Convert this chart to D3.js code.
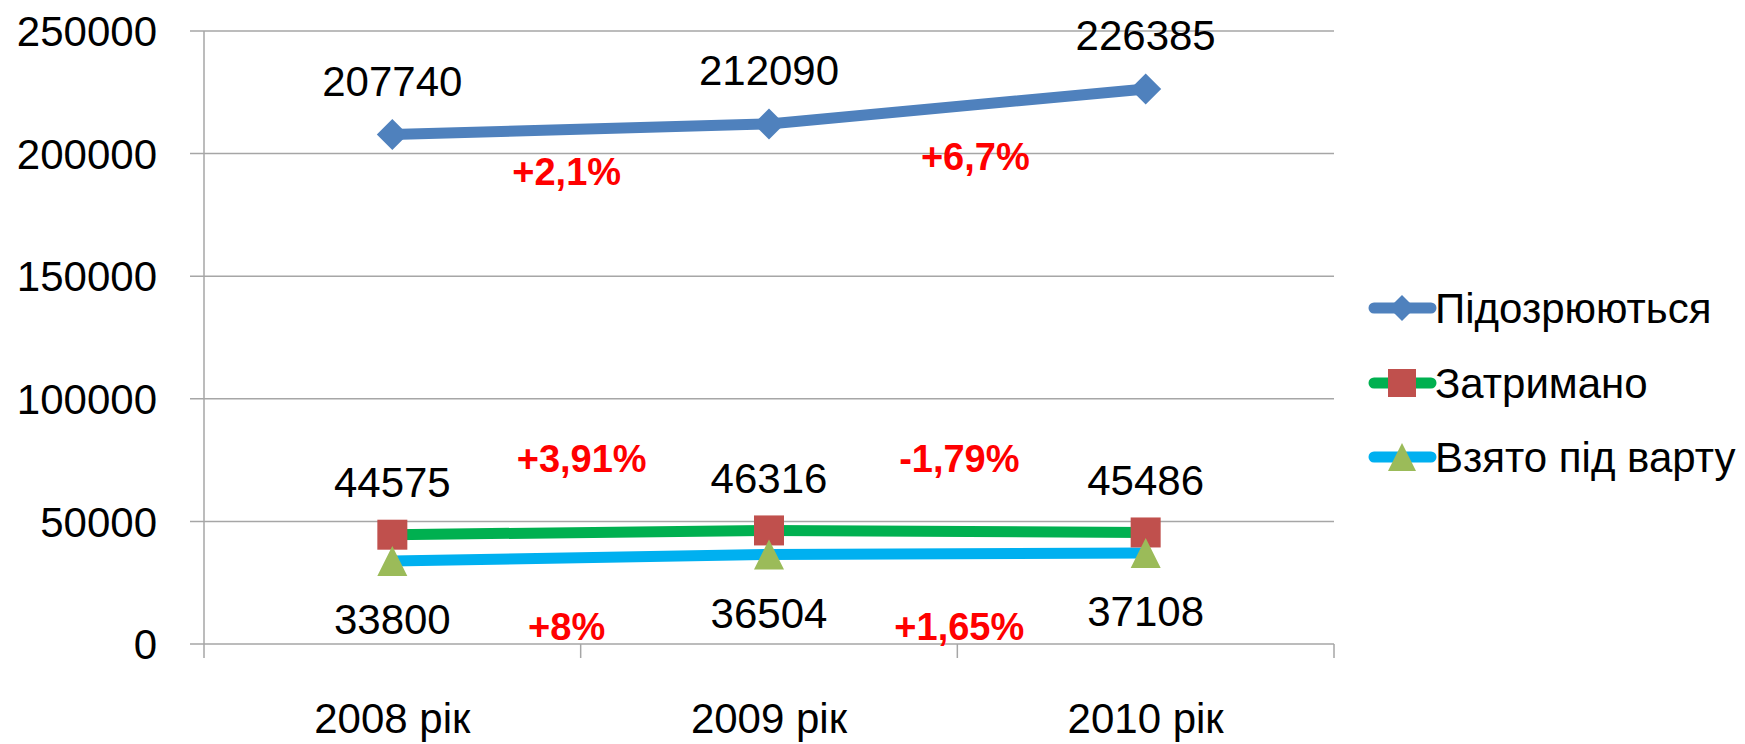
<!DOCTYPE html>
<html><head><meta charset="utf-8">
<script src="https://cdn.jsdelivr.net/npm/d3@7"></script>
<style>body{margin:0;background:#fff}svg{display:block}</style>
</head><body>
<script>
const categories = ["2008 рік", "2009 рік", "2010 рік"];
const seriesNames = ["Підозрюються", "Затримано", "Взято під варту"];
const suspected = [207740, 212090, 226385];
const detained = [44575, 46316, 45486];
const custody = [33800, 36504, 37108];
const yTicks = [0, 50000, 100000, 150000, 200000, 250000];
const pctSuspected = ["+2,1%", "+6,7%"];
const pctDetained = ["+3,91%", "-1,79%"];
const pctCustody = ["+8%", "+1,65%"];

const W = 1745, H = 744;
const font = "'Liberation Sans', Arial, sans-serif";
const svg = d3.select("body").append("svg").attr("width", W).attr("height", H);

const x = d3.scaleBand().domain(categories).range([204, 1334]);
const y = d3.scaleLinear().domain([0, 250000]).range([644, 31]);
const cx = c => x(c) + x.bandwidth() / 2;

// gridlines
svg.append("g").selectAll("line").data(yTicks).join("line")
  .attr("x1", 190).attr("x2", 1334)
  .attr("y1", d => y(d)).attr("y2", d => y(d))
  .attr("stroke", "#a6a6a6").attr("stroke-width", 1.5);

// y axis line
svg.append("line").attr("x1", 204).attr("x2", 204).attr("y1", y(250000)).attr("y2", 658)
  .attr("stroke", "#a6a6a6").attr("stroke-width", 1.5);

// category ticks
const bounds = categories.map(c => x(c)).concat([x(categories[2]) + x.bandwidth()]);
svg.append("g").selectAll("line").data(bounds.slice(1)).join("line")
  .attr("x1", d => d).attr("x2", d => d).attr("y1", y(0)).attr("y2", 658)
  .attr("stroke", "#a6a6a6").attr("stroke-width", 1.5);

// y tick labels
svg.append("g").selectAll("text").data(yTicks).join("text")
  .attr("x", 157).attr("y", d => y(d)).attr("dy", "0.36em")
  .attr("text-anchor", "end").attr("font-family", font).attr("font-size", 42)
  .text(d => d);

// category labels
svg.append("g").selectAll("text").data(categories).join("text")
  .attr("x", d => cx(d)).attr("y", 733)
  .attr("text-anchor", "middle").attr("font-family", font).attr("font-size", 42)
  .text(d => d);

const line = d3.line().x((d, i) => cx(categories[i])).y(d => y(d));

const series = [
  {vals: suspected, color: "#4f81bd", marker: "diamond", mcolor: "#4f81bd", labDy: -54, pct: pctSuspected, pctY: [171, 156], pctDx: [-14, 18]},
  {vals: detained, color: "#00b050", marker: "square", mcolor: "#c0504d", labDy: -53, pct: pctDetained, pctY: [458, 458], pctDx: [1, 2]},
  {vals: custody, color: "#00b0f0", marker: "triangle", mcolor: "#9bbb59", labDy: 58, pct: pctCustody, pctY: [626, 626], pctDx: [-14, 2]}
];

function markerPath(type, s) {
  if (type === "diamond") return `M0,${-s}L${s},0L0,${s}L${-s},0Z`;
  if (type === "square") return `M${-s},${-s}H${s}V${s}H${-s}Z`;
  return `M0,${-s}L${s},${s}L${-s},${s}Z`;
}

series.forEach(s => {
  svg.append("path").datum(s.vals).attr("d", line)
    .attr("fill", "none").attr("stroke", s.color).attr("stroke-width", 11)
    .attr("stroke-linejoin", "round").attr("stroke-linecap", "butt");
});
series.forEach(s => {
  const size = s.marker === "diamond" ? 15.5 : 15;
  svg.append("g").selectAll("path").data(s.vals).join("path")
    .attr("transform", (d, i) => `translate(${cx(categories[i])},${y(d)})`)
    .attr("d", markerPath(s.marker, size)).attr("fill", s.mcolor);
});
series.forEach(s => {
  svg.append("g").selectAll("text").data(s.vals).join("text")
    .attr("x", (d, i) => cx(categories[i])).attr("y", d => y(d) + s.labDy).attr("dy", "0.36em")
    .attr("text-anchor", "middle").attr("font-family", font).attr("font-size", 42)
    .text(d => d);
});

// percentage annotations between categories
series.forEach(s => {
  svg.append("g").selectAll("text").data(s.pct).join("text")
    .attr("x", (d, i) => x(categories[i + 1]) + s.pctDx[i])
    .attr("y", (d, i) => s.pctY[i]).attr("dy", "0.36em")
    .attr("text-anchor", "middle").attr("font-family", font).attr("font-size", 38)
    .attr("font-weight", "bold").attr("fill", "#ff0000")
    .text(d => d);
});

// legend
const lg = svg.append("g");
const legY = [308, 383, 457];
series.forEach((s, i) => {
  lg.append("line").attr("x1", 1374).attr("x2", 1431).attr("y1", legY[i]).attr("y2", legY[i])
    .attr("stroke", s.color).attr("stroke-width", 11).attr("stroke-linecap", "round");
  lg.append("path").attr("transform", `translate(1402,${legY[i]})`)
    .attr("d", markerPath(s.marker, s.marker === "diamond" ? 13 : 14)).attr("fill", s.mcolor);
  lg.append("text").attr("x", 1435).attr("y", legY[i]).attr("dy", "0.36em")
    .attr("font-family", font).attr("font-size", 42).text(seriesNames[i]);
});
</script>
</body></html>
